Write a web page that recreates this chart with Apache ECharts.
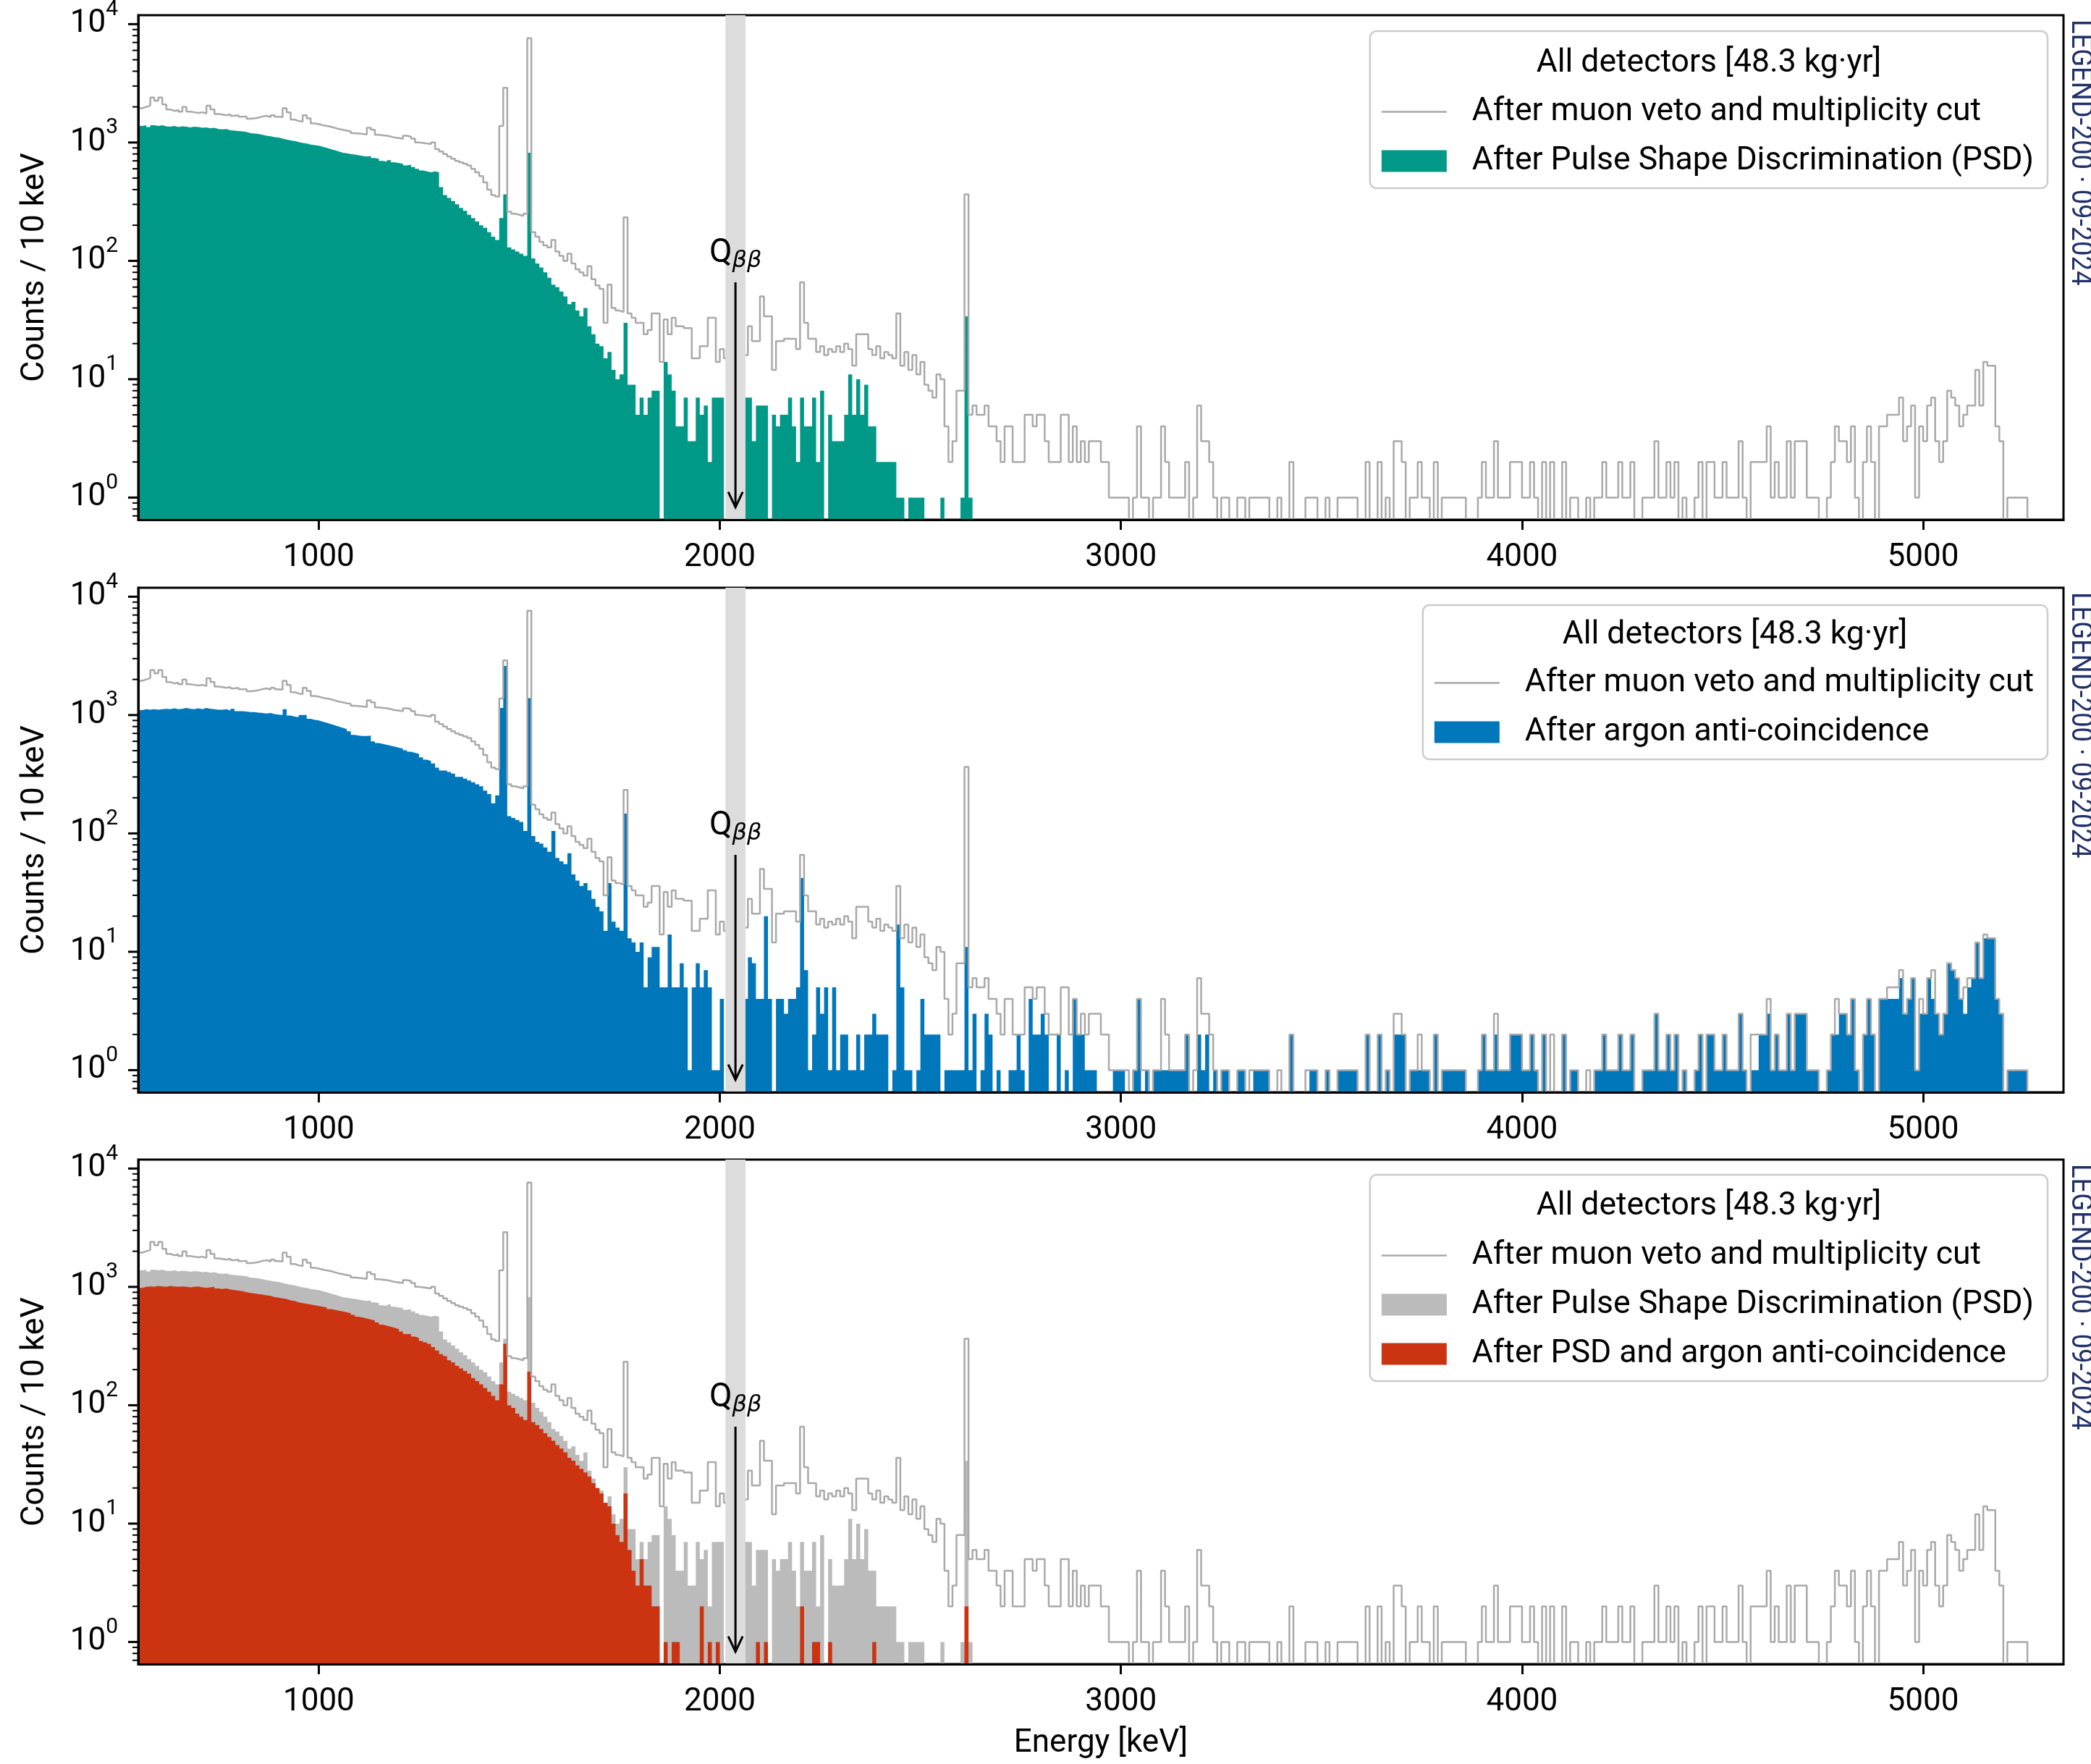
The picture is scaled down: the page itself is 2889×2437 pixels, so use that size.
<!DOCTYPE html>
<html>
<head>
<meta charset="utf-8">
<script src="https://cdn.jsdelivr.net/npm/echarts@6/dist/echarts.min.js"></script>
<style>
  html, body { margin: 0; padding: 0; background: #ffffff; }
  #chart { width: 2889px; height: 2437px; }
</style>
</head>
<body>
<div id="chart"></div>
<script>
// ---------------------------------------------------------------------------
// Binning and axis ranges (energy in keV, counts per 10 keV bin)
// ---------------------------------------------------------------------------
const BIN_START = 550;
const BIN_WIDTH = 10;
const ENERGY_RANGE = [550, 5350];
const COUNT_RANGE = [0.65, 11900];
const EMPTY_BIN = 1e-3;           // empty bins sit below the log axis and get clipped
const X_TICKS = [1000, 2000, 3000, 4000, 5000];
const Y_MAJOR_TICKS = [1, 10, 100, 1000, 10000];
const Y_MINOR_TICKS = [0.7, 0.8, 0.9, 2, 3, 4, 5, 6, 7, 8, 9, 20, 30, 40, 50, 60, 70, 80, 90,
  200, 300, 400, 500, 600, 700, 800, 900, 2000, 3000, 4000, 5000, 6000, 7000, 8000, 9000];

// Q_bb marker, blinded window and arrow (counts at which the arrow starts/ends)
const Q_BB = 2039;
const Q_BB_WINDOW = [2014, 2064];
const Q_ARROW = [66, 0.83];
const Q_LABEL_AT = 80;

const LABEL_MUON = 'After muon veto and multiplicity cut';
const LABEL_PSD = 'After Pulse Shape Discrimination (PSD)';
const LABEL_LAR = 'After argon anti-coincidence';
const LABEL_PSD_LAR = 'After PSD and argon anti-coincidence';
const LEGEND_TITLE = 'All detectors [48.3 kg·yr]';
const WATERMARK = 'LEGEND-200 · 09-2024';
const X_NAME = 'Energy [keV]';
const Y_NAME = 'Counts / 10 keV';

// ---------------------------------------------------------------------------
// Spectra: one value per 10 keV bin, first bin 550-560 keV (one row = 100 keV)
// ---------------------------------------------------------------------------
const muonVetoCounts = [
  1950, 2000, 2050, 2400, 2250, 2400, 2100, 1900, 1850, 1880,   //  550
  1820, 2000, 1820, 1800, 1780, 1800, 1760, 2050, 1900, 1740,   //  650
  1720, 1700, 1730, 1680, 1700, 1650, 1660, 1590, 1600, 1620,   //  750
  1660, 1680, 1640, 1700, 1650, 1640, 1950, 1800, 1560, 1520,   //  850
  1500, 1700, 1600, 1450, 1430, 1400, 1380, 1360, 1330, 1300,   //  950
  1280, 1260, 1240, 1200, 1190, 1180, 1170, 1330, 1280, 1160,   // 1050
  1150, 1140, 1120, 1100, 1090, 1080, 1140, 1120, 1080, 1000,   // 1150
  990, 980, 970, 1000, 880, 840, 800, 760, 730, 700,            // 1250
  680, 660, 640, 600, 560, 520, 460, 400, 360, 350,             // 1350
  1380, 2900, 260, 250, 245, 240, 250, 7600, 175, 160,          // 1450
  145, 135, 130, 150, 120, 110, 100, 115, 95, 85,               // 1550
  80, 75, 90, 70, 62, 58, 30, 63, 40, 38,                       // 1650
  37, 233, 36, 33, 30, 30, 24, 26, 36, 36,                      // 1750
  14, 32, 24, 33, 28, 28, 27, 27, 15, 15,                       // 1850
  19, 19, 33, 33, 14, 18, 15, 0, 0, 0,                          // 1950
  0, 16, 28, 21, 21, 50, 34, 34, 12, 21,                        // 2050
  21, 22, 22, 22, 18, 66, 30, 22, 22, 17,                       // 2150
  19, 16, 18, 17, 19, 17, 20, 18, 13, 24,                       // 2250
  24, 24, 18, 16, 19, 15, 17, 16, 15, 36,                       // 2350
  13, 17, 12, 16, 11, 14, 9, 8, 7, 11,                          // 2450
  10, 4, 2, 3, 8, 8, 365, 5, 6, 5,                              // 2550
  5, 6, 4, 4, 3, 2, 4, 4, 2, 2,                                 // 2650
  2, 5, 5, 4, 5, 5, 3, 2, 2, 2,                                 // 2750
  5, 5, 2, 4, 2, 3, 2, 3, 3, 3,                                 // 2850
  2, 2, 1, 1, 1, 1, 1, 0, 1, 4,                                 // 2950
  1, 1, 0, 1, 1, 4, 2, 1, 1, 1,                                 // 3050
  1, 2, 0, 1, 6, 3, 3, 2, 1, 0,                                 // 3150
  1, 1, 0, 0, 1, 1, 0, 1, 1, 1,                                 // 3250
  1, 1, 0, 0, 1, 0, 0, 2, 0, 0,                                 // 3350
  0, 1, 1, 1, 0, 0, 1, 0, 0, 1,                                 // 3450
  1, 1, 1, 1, 0, 0, 2, 0, 0, 2,                                 // 3550
  0, 1, 0, 3, 3, 2, 0, 1, 1, 2,                                 // 3650
  1, 1, 0, 2, 0, 1, 1, 1, 1, 1,                                 // 3750
  1, 0, 0, 0, 1, 2, 1, 1, 3, 1,                                 // 3850
  1, 1, 2, 2, 2, 1, 1, 2, 1, 0,                                 // 3950
  2, 0, 2, 0, 0, 2, 0, 1, 1, 0,                                 // 4050
  0, 1, 0, 1, 1, 2, 1, 1, 1, 2,                                 // 4150
  1, 1, 2, 0, 0, 1, 1, 1, 3, 1,                                 // 4250
  1, 2, 1, 2, 0, 1, 0, 0, 1, 2,                                 // 4350
  0, 2, 2, 1, 1, 2, 1, 1, 1, 3,                                 // 4450
  1, 0, 2, 2, 2, 2, 4, 1, 2, 1,                                 // 4550
  1, 3, 1, 3, 3, 3, 1, 1, 1, 0,                                 // 4650
  0, 1, 2, 4, 3, 3, 2, 4, 1, 0,                                 // 4750
  2, 4, 2, 0, 4, 4, 5, 5, 5, 7,                                 // 4850
  3, 4, 6, 1, 4, 3, 6, 7, 3, 2,                                 // 4950
  3, 8, 7, 6, 4, 5, 6, 6, 12, 6,                                // 5050
  14, 13, 13, 4, 3, 0, 1, 1, 1, 1,                              // 5150
  1, 0                                                          // 5250
];

const psdCounts = [
  1380, 1400, 1350, 1400, 1380, 1400, 1370, 1360, 1380, 1350,   //  550
  1370, 1360, 1340, 1360, 1350, 1330, 1340, 1320, 1330, 1300,   //  650
  1290, 1300, 1270, 1260, 1250, 1240, 1230, 1200, 1190, 1180,   //  750
  1160, 1140, 1130, 1110, 1100, 1080, 1060, 1040, 1030, 1010,   //  850
  990, 980, 960, 950, 940, 920, 900, 880, 860, 840,             //  950
  820, 810, 800, 790, 780, 770, 760, 770, 740, 730,             // 1050
  700, 690, 710, 680, 670, 660, 640, 650, 620, 600,             // 1150
  580, 570, 560, 570, 560, 420, 360, 340, 320, 300,             // 1250
  280, 265, 245, 230, 215, 200, 190, 175, 160, 150,             // 1350
  230, 365, 130, 125, 120, 115, 110, 820, 105, 95,              // 1450
  88, 80, 72, 63, 60, 55, 50, 43, 45, 38,                       // 1550
  34, 40, 28, 24, 20, 19, 15, 17, 12, 10,                       // 1650
  11, 30, 9, 9, 5, 7, 5, 7, 8, 8,                               // 1750
  0, 14, 11, 8, 4, 4, 7, 3, 3, 7,                               // 1850
  5, 6, 2, 7, 7, 7, 0, 0, 0, 0,                                 // 1950
  0, 7, 7, 3, 6, 6, 6, 0, 5, 4,                                 // 2050
  5, 5, 7, 4, 2, 7, 4, 4, 7, 2,                                 // 2150
  8, 0, 5, 3, 3, 3, 5, 11, 5, 10,                               // 2250
  5, 9, 4, 4, 2, 2, 2, 2, 2, 1,                                 // 2350
  1, 0, 1, 1, 1, 1, 0, 0, 0, 0,                                 // 2450
  1, 0, 0, 0, 0, 1, 34, 1, 0, 0                                 // 2550 (higher bins empty)
];

const argonCounts = [
  1100, 1120, 1110, 1120, 1110, 1120, 1130, 1120, 1140, 1120,   //  550
  1130, 1150, 1130, 1120, 1140, 1120, 1150, 1130, 1120, 1110,   //  650
  1110, 1120, 1090, 1130, 1080, 1080, 1070, 1060, 1060, 1050,   //  750
  1040, 1030, 1040, 1020, 1010, 1000, 1120, 990, 970, 960,      //  850
  1000, 1000, 930, 910, 900, 880, 860, 840, 820, 800,           //  950
  780, 760, 730, 680, 670, 665, 665, 670, 600, 580,             // 1050
  570, 560, 550, 540, 530, 520, 505, 490, 480, 470,             // 1150
  440, 420, 410, 390, 360, 340, 340, 330, 320, 300,             // 1250
  300, 290, 280, 270, 260, 250, 230, 215, 180, 210,             // 1350
  1150, 2600, 140, 135, 130, 125, 105, 1390, 95, 85,            // 1450
  82, 76, 70, 105, 62, 58, 55, 68, 45, 40,                      // 1550
  36, 38, 33, 28, 24, 22, 15, 38, 18, 16,                       // 1650
  15, 147, 13, 12, 10, 12, 5, 9, 11, 11,                        // 1750
  5, 5, 14, 5, 5, 8, 5, 1, 5, 8,                                // 1850
  5, 7, 5, 1, 1, 4, 0, 0, 0, 0,                                 // 1950
  0, 4, 9, 8, 4, 4, 20, 4, 0, 4,                                // 2050
  4, 3, 4, 4, 5, 42, 7, 1, 2, 5,                                // 2150
  3, 5, 1, 5, 1, 2, 2, 1, 1, 2,                                 // 2250
  1, 2, 2, 3, 2, 2, 2, 0, 1, 17,                                // 2350
  5, 1, 1, 0, 1, 4, 2, 2, 2, 2,                                 // 2450
  0, 1, 1, 1, 1, 1, 11, 1, 3, 0,                                // 2550
  1, 3, 2, 0, 1, 0, 0, 1, 1, 2,                                 // 2650
  1, 0, 4, 2, 2, 3, 2, 0, 0, 2,                                 // 2750
  0, 1, 0, 4, 2, 2, 1, 1, 1, 0,                                 // 2850
  0, 0, 0, 1, 1, 1, 0, 0, 1, 4,                                 // 2950
  0, 1, 0, 1, 1, 1, 1, 1, 1, 1,                                 // 3050
  1, 2, 0, 0, 2, 1, 2, 0, 1, 0,                                 // 3150
  1, 1, 0, 0, 1, 1, 0, 0, 1, 1,                                 // 3250
  1, 1, 0, 0, 0, 0, 0, 2, 0, 0,                                 // 3350
  0, 0, 1, 1, 0, 0, 1, 0, 0, 1,                                 // 3450
  1, 1, 1, 1, 0, 0, 2, 0, 0, 2,                                 // 3550
  0, 1, 0, 2, 2, 2, 0, 1, 1, 1,                                 // 3650
  1, 1, 0, 2, 0, 1, 1, 1, 1, 1,                                 // 3750
  1, 0, 0, 0, 1, 2, 1, 1, 2, 1,                                 // 3850
  1, 1, 2, 2, 2, 1, 1, 2, 1, 0,                                 // 3950
  2, 0, 0, 0, 0, 2, 0, 1, 1, 0,                                 // 4050
  0, 0, 0, 1, 1, 2, 1, 1, 1, 2,                                 // 4150
  1, 1, 2, 0, 0, 1, 1, 1, 3, 1,                                 // 4250
  1, 2, 1, 2, 0, 1, 0, 0, 1, 2,                                 // 4350
  0, 2, 2, 1, 1, 2, 1, 1, 1, 3,                                 // 4450
  1, 0, 1, 1, 2, 2, 3, 1, 2, 1,                                 // 4550
  1, 3, 1, 3, 3, 3, 1, 1, 1, 0,                                 // 4650
  0, 1, 2, 2, 3, 3, 2, 4, 1, 0,                                 // 4750
  2, 4, 2, 0, 4, 4, 4, 4, 4, 6,                                 // 4850
  3, 4, 6, 1, 3, 3, 6, 4, 3, 2,                                 // 4950
  3, 8, 7, 6, 4, 3, 5, 6, 12, 6,                                // 5050
  13, 13, 13, 4, 3, 0, 1, 1, 1, 1,                              // 5150
  1, 0                                                          // 5250
];

const psdArgonCounts = [
  980, 1000, 1010, 1000, 1020, 1010, 1000, 1020, 1010, 1000,    //  550
  1010, 1000, 990, 1000, 1010, 990, 980, 990, 1000, 970,        //  650
  960, 970, 950, 940, 930, 920, 900, 890, 880, 870,             //  750
  860, 850, 840, 820, 810, 800, 790, 770, 760, 740,             //  850
  730, 720, 710, 700, 690, 680, 670, 650, 640, 630,             //  950
  620, 610, 600, 580, 560, 550, 540, 530, 520, 500,             // 1050
  480, 470, 460, 450, 440, 420, 400, 400, 380, 370,             // 1150
  350, 340, 330, 310, 290, 270, 260, 240, 230, 215,             // 1250
  205, 195, 185, 170, 160, 150, 140, 130, 120, 110,             // 1350
  150, 330, 100, 95, 85, 80, 75, 192, 72, 68,                   // 1450
  63, 58, 54, 50, 46, 43, 40, 36, 34, 31,                       // 1550
  29, 27, 25, 22, 20, 18, 15, 14, 10, 8,                        // 1650
  7, 18, 6, 4, 3, 5, 3, 3, 2, 2,                                // 1750
  0, 1, 0, 1, 1, 0, 0, 0, 0, 0,                                 // 1850
  2, 0, 1, 0, 1, 0, 0, 0, 0, 0,                                 // 1950
  0, 0, 0, 0, 1, 0, 1, 0, 0, 0,                                 // 2050
  0, 0, 0, 0, 0, 2, 0, 0, 1, 1,                                 // 2150
  0, 0, 1, 0, 0, 0, 0, 0, 0, 0,                                 // 2250
  0, 0, 0, 1, 0, 0, 0, 0, 0, 0,                                 // 2350
  0, 0, 0, 0, 0, 0, 0, 0, 0, 0,                                 // 2450
  0, 0, 0, 0, 0, 0, 2, 0, 0, 0                                  // 2550 (higher bins empty)
];

// ---------------------------------------------------------------------------
// Styling
// ---------------------------------------------------------------------------
const FONT = 'Roboto, "Noto Sans", "DejaVu Sans", sans-serif';
const COLORS = {
  outline: '#a9a9a9',
  psd: '#009988',
  psdGrey: '#bbbbbb',
  lar: '#0077bb',
  psdLar: '#cc3311',
  window: '#dcdcdc',
  watermark: '#22306a'
};
// thin horizontal bar spanning the legend icon box (tiny corner anchors fix its bounds)
const LINE_ICON = 'path://M0,0L0.01,0L0,0.01Z M0,13.75L90,13.75L90,16.25L0,16.25Z M90,30L89.99,30L90,29.99Z';

const GRID_LEFT = 191;
const GRID_RIGHT = 38;
const GRID_HEIGHT = 697;
const PANEL_TOPS = [21, 812, 1602];

// Panel contents: filled spectra (drawn bottom to top) and the legend layout
const PANELS = [
  {
    fills: [{ name: LABEL_PSD, counts: psdCounts, color: COLORS.psd }],
    legendTop: 43, legendPadTop: 89, titleX: 2361, titleY: 88
  },
  {
    fills: [{ name: LABEL_LAR, counts: argonCounts, color: COLORS.lar }],
    legendTop: 836, legendPadTop: 85, titleX: 2397, titleY: 878
  },
  {
    fills: [
      { name: LABEL_PSD, counts: psdCounts, color: COLORS.psdGrey },
      { name: LABEL_PSD_LAR, counts: psdArgonCounts, color: COLORS.psdLar }
    ],
    legendTop: 1623, legendPadTop: 89, titleX: 2361, titleY: 1667
  }
];

// Histogram counts -> step polyline through the bin edges
function toSteps(counts) {
  const pts = counts.map((c, i) => [BIN_START + i * BIN_WIDTH, c > 0 ? c : EMPTY_BIN]);
  pts.push([BIN_START + counts.length * BIN_WIDTH, pts[pts.length - 1][1]]);
  return pts;
}

function fillSeries(gi, fill, z) {
  return {
    type: 'line', name: fill.name, xAxisIndex: gi, yAxisIndex: gi,
    data: toSteps(fill.counts), step: 'end', symbol: 'none', showSymbol: false,
    color: fill.color, itemStyle: { color: fill.color },
    lineStyle: { width: 0, opacity: 0 },
    areaStyle: { color: fill.color, opacity: 1, origin: 'start' },
    clip: true, silent: true, z: z
  };
}

function outlineSeries(gi) {
  return {
    type: 'line', name: LABEL_MUON, xAxisIndex: gi, yAxisIndex: gi,
    data: toSteps(muonVetoCounts), step: 'end', symbol: 'none', showSymbol: false,
    color: COLORS.outline, itemStyle: { color: COLORS.outline },
    lineStyle: { width: 2.5, color: COLORS.outline },
    clip: true, silent: true, z: 4
  };
}

function windowSeries(gi) {
  return {
    type: 'custom', name: 'qbb-window-' + gi, xAxisIndex: gi, yAxisIndex: gi,
    silent: true, clip: true, z: 5,
    data: [[Q_BB_WINDOW[0], COUNT_RANGE[1], Q_BB_WINDOW[1], COUNT_RANGE[0]]],
    encode: { x: [0, 2], y: [1, 3] },
    renderItem: function (params, api) {
      const a = api.coord([api.value(0), api.value(1)]);
      const b = api.coord([api.value(2), api.value(3)]);
      return {
        type: 'rect',
        shape: { x: a[0], y: a[1], width: b[0] - a[0], height: b[1] - a[1] },
        style: { fill: COLORS.window }
      };
    }
  };
}

function qbbSeries(gi) {
  return {
    type: 'custom', name: 'qbb-marker-' + gi, xAxisIndex: gi, yAxisIndex: gi,
    silent: true, clip: false, z: 6,
    data: [[Q_BB, Q_ARROW[0], Q_ARROW[1], Q_LABEL_AT]],
    encode: { x: 0, y: [1, 2, 3] },
    renderItem: function (params, api) {
      const x = api.value(0);
      const from = api.coord([x, api.value(1)]);
      const to = api.coord([x, api.value(2)]);
      const lab = api.coord([x, api.value(3)]);
      return {
        type: 'group',
        children: [
          { type: 'line', shape: { x1: from[0], y1: from[1], x2: to[0], y2: to[1] },
            style: { stroke: '#000', lineWidth: 3 } },
          { type: 'polyline',
            shape: { points: [[to[0] - 10, to[1] - 21], [to[0], to[1]], [to[0] + 10, to[1] - 21]] },
            style: { stroke: '#000', lineWidth: 3, fill: 'none' } },
          { type: 'text', x: lab[0], y: lab[1],
            style: {
              text: '{q|Q}{s|ββ}', align: 'center', verticalAlign: 'bottom', fill: '#000',
              rich: {
                q: { fontSize: 46, fontFamily: FONT, fill: '#000' },
                s: { fontSize: 32, fontStyle: 'italic', fontFamily: '"DejaVu Sans", sans-serif',
                     fill: '#000', padding: [20, 0, 0, 0] }
              }
            } }
        ]
      };
    }
  };
}

// Major and minor ticks of the logarithmic count axis (outward)
function yTickSeries(gi) {
  const data = Y_MAJOR_TICKS.map(v => [ENERGY_RANGE[0], v, 1])
    .concat(Y_MINOR_TICKS.map(v => [ENERGY_RANGE[0], v, 0]));
  return {
    type: 'custom', name: 'count-ticks-' + gi, xAxisIndex: gi, yAxisIndex: gi,
    silent: true, clip: false, z: 10, data: data,
    encode: { x: 0, y: 1 },
    renderItem: function (params, api) {
      const p = api.coord([api.value(0), api.value(1)]);
      const major = api.value(2) === 1;
      const len = major ? 14 : 8;
      return {
        type: 'line',
        shape: { x1: p[0] - len, y1: p[1], x2: p[0], y2: p[1] },
        style: { stroke: '#000', lineWidth: major ? 3 : 2 }
      };
    }
  };
}

function powerLabel(v) {
  const e = Math.log10(v);
  const n = Math.round(e);
  if (Math.abs(e - n) > 1e-6) return '';
  return '{b|10}{e|' + n + '}';
}

// ---------------------------------------------------------------------------
// Option assembly
// ---------------------------------------------------------------------------
const grids = [], xAxes = [], yAxes = [], series = [], legends = [], graphics = [];

PANELS.forEach((panel, gi) => {
  const top = PANEL_TOPS[gi];
  grids.push({
    left: GRID_LEFT, right: GRID_RIGHT, top: top, height: GRID_HEIGHT,
    show: true, borderColor: '#000', borderWidth: 3, backgroundColor: 'transparent',
    containLabel: false, outerBoundsMode: 'none'
  });
  xAxes.push({
    type: 'value', gridIndex: gi, min: ENERGY_RANGE[0], max: ENERGY_RANGE[1], z: 10,
    axisLine: { show: true, onZero: false, lineStyle: { color: '#000', width: 3 } },
    axisTick: { show: true, length: 14, customValues: X_TICKS, lineStyle: { color: '#000', width: 3 } },
    axisLabel: {
      show: true, customValues: X_TICKS, fontSize: 44, fontFamily: FONT, color: '#000', margin: 31,
      formatter: v => String(v)
    },
    splitLine: { show: false },
    name: gi === PANELS.length - 1 ? X_NAME : '',
    nameLocation: 'middle', nameGap: 88,
    nameTextStyle: { fontSize: 44, fontFamily: FONT, color: '#000' }
  });
  yAxes.push({
    type: 'log', logBase: 10, gridIndex: gi, min: COUNT_RANGE[0], max: COUNT_RANGE[1], z: 10,
    axisLine: { show: true, lineStyle: { color: '#000', width: 3 } },
    axisTick: { show: false },
    minorTick: { show: false },
    splitLine: { show: false },
    axisLabel: {
      show: true, margin: 28, showMinLabel: false, showMaxLabel: false,
      formatter: powerLabel,
      rich: {
        b: { fontSize: 44, fontFamily: FONT, color: '#000' },
        e: { fontSize: 30, fontFamily: FONT, color: '#000', padding: [0, 0, 40, 0] }
      }
    },
    name: Y_NAME, nameLocation: 'middle', nameGap: 120, nameRotate: 90,
    nameTextStyle: { fontSize: 44.5, fontFamily: FONT, color: '#000' }
  });

  panel.fills.forEach((fill, k) => series.push(fillSeries(gi, fill, 2 + k * 0.1)));
  series.push(outlineSeries(gi));
  series.push(windowSeries(gi));
  series.push(qbbSeries(gi));
  series.push(yTickSeries(gi));

  const legendData = [{ name: LABEL_MUON, icon: LINE_ICON, itemStyle: { color: COLORS.outline, borderWidth: 0 } }]
    .concat(panel.fills.map(f => ({ name: f.name, icon: 'rect', itemStyle: { color: f.color, borderWidth: 0 } })));
  legends.push({
    orient: 'vertical', right: 60, top: panel.legendTop,
    padding: [panel.legendPadTop, 19, 15, 16],
    itemWidth: 90, itemHeight: 30, itemGap: 23,
    backgroundColor: 'rgba(255,255,255,0.8)', borderColor: '#cccccc', borderWidth: 2.5, borderRadius: 9,
    selectedMode: false,
    textStyle: { fontSize: 44.5, fontFamily: FONT, color: '#000', padding: [0, 0, 0, 30] },
    data: legendData
  });

  graphics.push({
    type: 'text', x: panel.titleX, y: panel.titleY, z: 100, silent: true,
    style: { text: LEGEND_TITLE, font: '44.5px ' + FONT, fill: '#000', align: 'center', verticalAlign: 'middle' }
  });
  graphics.push({
    type: 'text', x: 2873, y: top + 6, z: 100, silent: true,
    rotation: -Math.PI / 2, scaleX: 0.91,
    style: { text: WATERMARK, font: '40px ' + FONT, fill: COLORS.watermark, align: 'left', verticalAlign: 'middle' }
  });
});

const chart = echarts.init(document.getElementById('chart'), null, { renderer: 'canvas', width: 2889, height: 2437 });
chart.setOption({
  animation: false,
  backgroundColor: '#ffffff',
  textStyle: { fontFamily: FONT },
  grid: grids,
  xAxis: xAxes,
  yAxis: yAxes,
  legend: legends,
  series: series,
  graphic: graphics
});
</script>
</body>
</html>
